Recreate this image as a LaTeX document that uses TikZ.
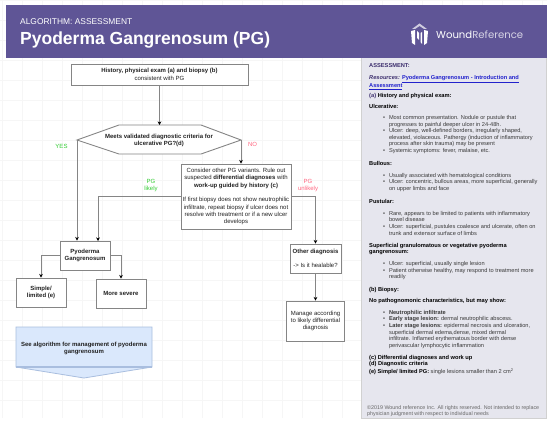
\documentclass[tikz,border=0pt]{standalone}
\usepackage{fontspec}
\setmainfont{Liberation Sans}
\newfontfamily\logofont{Poppins}
\usetikzlibrary{arrows.meta,calc}
\definecolor{hdr}{HTML}{5F5596}
\definecolor{panel}{HTML}{E6E6EE}
\definecolor{gridc}{HTML}{F6F6F6}
\definecolor{edge}{HTML}{858585}
\definecolor{yesc}{HTML}{33CC33}
\definecolor{noc}{HTML}{FF6680}
\definecolor{bluef}{HTML}{DAE8FC}
\definecolor{blueb}{HTML}{A9BEDF}
\definecolor{pur}{HTML}{3D2F6E}
\definecolor{lnk}{HTML}{2222CC}
\definecolor{bodyc}{HTML}{3A3A3A}
\definecolor{flowt}{HTML}{222222}
\newcommand{\st}{\rule{0pt}{4.5pt}}
\newcommand{\bl}{\makebox[5.8pt][l]{•}}
\newcommand{\ind}{\hspace*{5.8pt}}
\tikzset{
 x=1pt,y=-1pt,
 flowbox/.style={draw=edge,line width=0.9pt,fill=white,inner sep=0,align=center,text=flowt,font=\fontsize{6}{7.3}\selectfont},
 conn/.style={draw=edge,line width=0.9pt,-{Stealth[black,length=3.6pt,width=3.6pt]}},
 lab/.style={inner sep=0,align=center,font=\fontsize{6}{7.3}\selectfont},
 pb/.style={anchor=north west,inner sep=0,align=left,text=bodyc,font=\fontsize{5.65}{6.6}\selectfont},
 ph/.style={pb,text=black,font=\fontsize{5.7}{6.6}\bfseries\selectfont},
}
\begin{document}
\begin{tikzpicture}
\useasboundingbox (0,0) rectangle (553,425);
\fill[white] (0,0) rectangle (553,425);
% faint drawing grid
\foreach \gx in {2,22,...,542} \draw[gridc,line width=0.4pt] (\gx,0) -- (\gx,418);
\foreach \gy in {0,20,...,400} \draw[gridc,line width=0.4pt] (0,\gy) -- (547,\gy);
% header and panel
\fill[panel] (361,58) rectangle (546,418);
\draw[gridc!85!black,line width=0.4pt] (361,58) -- (361,418) -- (546,418) -- (546,58);
\fill[hdr] (6,5) rectangle (547,58);
\node[inner sep=0,anchor=base west,text=white,font=\fontsize{8.4}{9}\selectfont] (kicker) at (20,25) {ALGORITHM: ASSESSMENT};
\node[inner sep=0,anchor=base west,text=white,font=\fontsize{17.5}{19}\bfseries\selectfont] (title) at (20,44.5) {Pyoderma Gangrenosum (PG)};
% logo
\fill[white!70!hdr] (419.5,23.5) -- (427,29) -- (424,29) -- (419.5,26) -- (415,29) -- (412,29) -- cycle;
\fill[white] (411,31) -- (415,30) -- (415,45) -- (412,43) -- cycle;
\fill[white] (428,31) -- (424,30) -- (424,45) -- (427,43) -- cycle;
\fill[white] (417,31) -- (419,33) -- (419,40) -- (417,38) -- cycle;
\fill[white] (422,32) -- (420.5,33) -- (420.5,42) -- (422,44) -- cycle;
\node[inner sep=0,anchor=base west,text=white,font=\fontsize{10.1}{12}\logofont] (logo) at (436,39) {Wound\textcolor{white!75!hdr}{Reference}};
% flow
\node[flowbox,minimum width=177pt,minimum height=21pt] (start) at (159.5,74.5) {\textbf{History, physical exam (a) and biopsy (b)}\\consistent with PG};
\coordinate (hexL) at (77,140);
\coordinate (hexR) at (241,140);
\coordinate (hexT) at (159.5,125);
\draw[draw=edge,line width=0.9pt,fill=white] (hexL) -- (119,125) -- (201,125) -- (hexR) -- (201,154) -- (119,154) -- cycle;
\node[lab,text=flowt,font=\fontsize{6}{7.3}\bfseries\selectfont] (hex) at (159,140.5) {Meets validated diagnostic criteria for\\ulcerative PG?(d)};
\node[flowbox,minimum width=110pt,minimum height=65pt] (consider) at (236,196.5) {Consider other PG variants. Rule out\\suspected \textbf{differential diagnoses} with\\\textbf{work-up guided by history (c)}\\[7.3pt]If first biopsy does not show neutrophilic\\infiltrate, repeat biopsy if ulcer does not\\resolve with treatment or if a new ulcer\\develops};
\node[flowbox,minimum width=50pt,minimum height=29pt] (pyo) at (85,255.5) {\textbf{Pyoderma}\\\textbf{Gangrenosum}};
\node[flowbox,minimum width=50pt,minimum height=29pt] (simple) at (41,292.5) {\textbf{Simple/}\\\textbf{limited (e)}};
\node[flowbox,minimum width=50pt,minimum height=29pt] (severe) at (121,293.5) {\textbf{More severe}};
\node[flowbox,minimum width=51pt,minimum height=29pt] (other) at (315.5,258.5) {\textbf{Other diagnosis}\\[7.3pt]-> Is it healable?};
\node[flowbox,minimum width=58pt,minimum height=40pt] (manage) at (315.5,321) {Manage according\\to likely differential\\diagnosis};
\draw[draw=blueb,line width=0.8pt,fill=bluef] (16,327) -- (152,327) -- (152,367) -- (84,378) -- (16,367) -- cycle;
\draw[draw=blueb,line width=1.2pt] (16,367) -- (152,367);
\node[lab,text=flowt,font=\fontsize{6}{7.3}\bfseries\selectfont] (offpage) at (84,348.5) {See algorithm for management of pyoderma\\gangrenosum};
\coordinate (pyoIn) at (98,241);
\draw[conn] (start.south) -- (hexT);
\draw[conn] (hexR) -- (hexR |- consider.north);
\draw[conn] (hexL) -- (hexL |- pyo.north);
\draw[conn] (consider.west) -| (pyoIn);
\draw[conn] (consider.east) -| (other.north);
\draw[conn] (pyo.west) -| (simple.north);
\draw[conn] (pyo.east) -| (severe.north);
\draw[conn] (other.south) -- (manage.north);
\node[lab,text=yesc] (yes) at (61.5,146) {YES};
\node[lab,text=noc] (no) at (252.5,144) {NO};
\node[lab,text=yesc] (likely) at (151,185.5) {PG\\likely};
\node[lab,text=noc] (unlikely) at (308,185.5) {PG\\unlikely};
% panel text
\node[ph,text=pur] (a1) at (369,63) {\st ASSESSMENT:};
\node[pb,font=\fontsize{5.65}{6.8}\selectfont] (a2) at (369,74.5) {\st\textcolor{pur}{\textbf{\textit{Resources:}}} \textcolor{lnk}{\textbf{\underline{Pyoderma Gangrenosum - Introduction and}}}\\\textcolor{lnk}{\textbf{\underline{Assessment}}}};
\node[ph] (a3) at (369,92.5) {\st\textcolor{pur}{(a)} History and physical exam:};
\node[ph] (a4) at (369,103.5) {\st Ulcerative:};
\node[pb] (a5) at (383,114.8) {\st\bl Most common presentation. Nodule or pustule that\\\ind progresses to painful deeper ulcer in 24-48h.\\\bl Ulcer: deep, well-defined borders, irregularly shaped,\\\ind elevated, violaceous. Pathergy (induction of inflammatory\\\ind process after skin trauma) may be present\\\bl Systemic symptoms: fever, malaise, etc.};
\node[ph] (a6) at (369,160.5) {\st Bullous:};
\node[pb] (a7) at (383,172.5) {\st\bl Usually associated with hematological conditions\\\bl Ulcer: concentric, bullous areas, more superficial, generally\\\ind on upper limbs and face};
\node[ph] (a8) at (369,198.5) {\st Pustular:};
\node[pb] (a9) at (383,210.5) {\st\bl Rare, appears to be limited to patients with inflammatory\\\ind bowel disease\\\bl Ulcer: superficial, pustules coalesce and ulcerate, often on\\\ind trunk and extensor surface of limbs};
\node[ph] (a10) at (369,242.5) {\st Superficial granulomatous or vegetative pyoderma\\gangrenosum:};
\node[pb] (a11) at (383,260.7) {\st\bl Ulcer: superficial, usually single lesion\\\bl Patient otherwise healthy, may respond to treatment more\\\ind readily};
\node[ph] (a12) at (369,286.5) {\st (b) Biopsy:};
\node[ph] (a13) at (369,297.5) {\st No pathognomonic characteristics, but may show:};
\node[pb] (a14) at (383,309.5) {\st\bl\textbf{Neutrophilic infiltrate}\\\bl\textbf{Early stage lesion:} dermal neutrophilic abscess.\\\bl\textbf{Later stage lesions:} epidermal necrosis and ulceration,\\\ind superficial dermal edema,dense, mixed dermal\\\ind infiltrate. Inflamed erythematous border with dense\\\ind perivascular lymphocytic inflammation};
\node[ph] (a15) at (369,354.5) {\st (c) Differential diagnoses and work up\\(d) Diagnostic criteria};
\node[pb,text=black] (a16) at (369,368.2) {\st\textbf{(e) Simple/ limited PG:} \textcolor{bodyc}{single lesions smaller than 2 cm\textsuperscript{2}}};
\node[pb,text=black!60,font=\fontsize{5.35}{6.4}\selectfont] (a17) at (367,404.5) {\st ©2019 Wound reference Inc. All rights reserved. Not intended to replace\\physician judgment with respect to individual needs};
\end{tikzpicture}
\end{document}
